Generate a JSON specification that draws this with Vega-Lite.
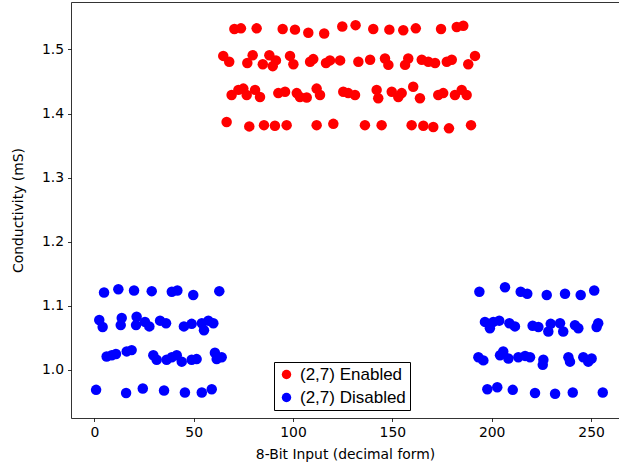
{
"$schema": "https://vega.github.io/schema/vega-lite/v6.json",
"width": 548, "height": 416,
"autosize": {"type": "none"},
"padding": {"left": 71, "top": 2, "right": 0, "bottom": 51},
"background": "white",
"config": {
 "view": {"stroke": null},
 "axis": {"domainColor": "#000", "domainWidth": 0.8, "tickColor": "#000", "tickWidth": 0.8, "tickSize": 3.5, "labelFont": "DejaVu Sans", "labelFontSize": 13.9, "labelColor": "#000", "titleFont": "DejaVu Sans", "titleFontSize": 13.9, "titleFontWeight": "normal", "titleColor": "#000", "grid": false, "labelPadding": 4}
},
"datasets": {
 "pts": [
  {"x":70.5,"y":1.532,"s":"(2,7) Enabled"},{"x":73.8,"y":1.533,"s":"(2,7) Enabled"},{"x":81.7,"y":1.533,"s":"(2,7) Enabled"},{"x":94.8,"y":1.532,"s":"(2,7) Enabled"},{"x":101.0,"y":1.531,"s":"(2,7) Enabled"},{"x":107.7,"y":1.526,"s":"(2,7) Enabled"},{"x":115.7,"y":1.525,"s":"(2,7) Enabled"},{"x":124.8,"y":1.536,"s":"(2,7) Enabled"},{"x":131.5,"y":1.538,"s":"(2,7) Enabled"},{"x":140.4,"y":1.532,"s":"(2,7) Enabled"},{"x":148.5,"y":1.531,"s":"(2,7) Enabled"},{"x":155.5,"y":1.530,"s":"(2,7) Enabled"},{"x":161.8,"y":1.533,"s":"(2,7) Enabled"},{"x":174.5,"y":1.532,"s":"(2,7) Enabled"},{"x":182.4,"y":1.535,"s":"(2,7) Enabled"},{"x":185.7,"y":1.537,"s":"(2,7) Enabled"},
  {"x":64.9,"y":1.490,"s":"(2,7) Enabled"},{"x":67.9,"y":1.481,"s":"(2,7) Enabled"},{"x":77.0,"y":1.479,"s":"(2,7) Enabled"},{"x":79.7,"y":1.491,"s":"(2,7) Enabled"},{"x":84.8,"y":1.477,"s":"(2,7) Enabled"},{"x":88.1,"y":1.491,"s":"(2,7) Enabled"},{"x":89.8,"y":1.474,"s":"(2,7) Enabled"},{"x":91.4,"y":1.483,"s":"(2,7) Enabled"},{"x":98.5,"y":1.490,"s":"(2,7) Enabled"},{"x":100.2,"y":1.477,"s":"(2,7) Enabled"},{"x":108.6,"y":1.481,"s":"(2,7) Enabled"},{"x":110.2,"y":1.485,"s":"(2,7) Enabled"},{"x":116.6,"y":1.479,"s":"(2,7) Enabled"},{"x":118.6,"y":1.483,"s":"(2,7) Enabled"},{"x":123.7,"y":1.483,"s":"(2,7) Enabled"},{"x":132.9,"y":1.481,"s":"(2,7) Enabled"},{"x":138.8,"y":1.484,"s":"(2,7) Enabled"},{"x":146.3,"y":1.486,"s":"(2,7) Enabled"},{"x":148.0,"y":1.476,"s":"(2,7) Enabled"},{"x":156.4,"y":1.476,"s":"(2,7) Enabled"},{"x":158.0,"y":1.486,"s":"(2,7) Enabled"},{"x":164.8,"y":1.484,"s":"(2,7) Enabled"},{"x":168.1,"y":1.481,"s":"(2,7) Enabled"},{"x":171.5,"y":1.479,"s":"(2,7) Enabled"},{"x":177.4,"y":1.481,"s":"(2,7) Enabled"},{"x":179.9,"y":1.484,"s":"(2,7) Enabled"},{"x":188.2,"y":1.477,"s":"(2,7) Enabled"},{"x":191.6,"y":1.490,"s":"(2,7) Enabled"},
  {"x":69.1,"y":1.429,"s":"(2,7) Enabled"},{"x":72.5,"y":1.437,"s":"(2,7) Enabled"},{"x":75.0,"y":1.439,"s":"(2,7) Enabled"},{"x":76.7,"y":1.429,"s":"(2,7) Enabled"},{"x":80.9,"y":1.437,"s":"(2,7) Enabled"},{"x":83.4,"y":1.426,"s":"(2,7) Enabled"},{"x":92.6,"y":1.432,"s":"(2,7) Enabled"},{"x":96.0,"y":1.434,"s":"(2,7) Enabled"},{"x":101.9,"y":1.432,"s":"(2,7) Enabled"},{"x":103.5,"y":1.426,"s":"(2,7) Enabled"},{"x":106.9,"y":1.425,"s":"(2,7) Enabled"},{"x":111.9,"y":1.439,"s":"(2,7) Enabled"},{"x":113.6,"y":1.429,"s":"(2,7) Enabled"},{"x":125.3,"y":1.434,"s":"(2,7) Enabled"},{"x":127.8,"y":1.432,"s":"(2,7) Enabled"},{"x":131.2,"y":1.429,"s":"(2,7) Enabled"},{"x":142.1,"y":1.437,"s":"(2,7) Enabled"},{"x":142.9,"y":1.424,"s":"(2,7) Enabled"},{"x":149.7,"y":1.434,"s":"(2,7) Enabled"},{"x":153.0,"y":1.426,"s":"(2,7) Enabled"},{"x":154.7,"y":1.432,"s":"(2,7) Enabled"},{"x":160.5,"y":1.442,"s":"(2,7) Enabled"},{"x":163.9,"y":1.424,"s":"(2,7) Enabled"},{"x":173.1,"y":1.429,"s":"(2,7) Enabled"},{"x":175.6,"y":1.432,"s":"(2,7) Enabled"},{"x":181.5,"y":1.429,"s":"(2,7) Enabled"},{"x":184.9,"y":1.437,"s":"(2,7) Enabled"},{"x":187.4,"y":1.429,"s":"(2,7) Enabled"},
  {"x":66.6,"y":1.387,"s":"(2,7) Enabled"},{"x":78.0,"y":1.380,"s":"(2,7) Enabled"},{"x":85.4,"y":1.382,"s":"(2,7) Enabled"},{"x":90.9,"y":1.381,"s":"(2,7) Enabled"},{"x":96.8,"y":1.382,"s":"(2,7) Enabled"},{"x":111.9,"y":1.382,"s":"(2,7) Enabled"},{"x":120.3,"y":1.384,"s":"(2,7) Enabled"},{"x":136.2,"y":1.382,"s":"(2,7) Enabled"},{"x":144.6,"y":1.382,"s":"(2,7) Enabled"},{"x":159.7,"y":1.382,"s":"(2,7) Enabled"},{"x":165.6,"y":1.381,"s":"(2,7) Enabled"},{"x":170.6,"y":1.379,"s":"(2,7) Enabled"},{"x":178.5,"y":1.377,"s":"(2,7) Enabled"},{"x":189.6,"y":1.382,"s":"(2,7) Enabled"},
  {"x":4.9,"y":1.121,"s":"(2,7) Disabled"},{"x":12.1,"y":1.126,"s":"(2,7) Disabled"},{"x":20.0,"y":1.124,"s":"(2,7) Disabled"},{"x":28.9,"y":1.123,"s":"(2,7) Disabled"},{"x":39.0,"y":1.122,"s":"(2,7) Disabled"},{"x":41.8,"y":1.124,"s":"(2,7) Disabled"},{"x":49.8,"y":1.117,"s":"(2,7) Disabled"},{"x":62.9,"y":1.123,"s":"(2,7) Disabled"},
  {"x":2.5,"y":1.078,"s":"(2,7) Disabled"},{"x":4.2,"y":1.067,"s":"(2,7) Disabled"},{"x":13.8,"y":1.081,"s":"(2,7) Disabled"},{"x":13.3,"y":1.070,"s":"(2,7) Disabled"},{"x":21.3,"y":1.083,"s":"(2,7) Disabled"},{"x":21.0,"y":1.070,"s":"(2,7) Disabled"},{"x":25.5,"y":1.075,"s":"(2,7) Disabled"},{"x":27.7,"y":1.068,"s":"(2,7) Disabled"},{"x":33.1,"y":1.077,"s":"(2,7) Disabled"},{"x":36.1,"y":1.073,"s":"(2,7) Disabled"},{"x":45.1,"y":1.068,"s":"(2,7) Disabled"},{"x":49.0,"y":1.072,"s":"(2,7) Disabled"},{"x":54.1,"y":1.073,"s":"(2,7) Disabled"},{"x":55.2,"y":1.062,"s":"(2,7) Disabled"},{"x":57.4,"y":1.077,"s":"(2,7) Disabled"},{"x":59.9,"y":1.073,"s":"(2,7) Disabled"},
  {"x":6.2,"y":1.021,"s":"(2,7) Disabled"},{"x":8.8,"y":1.023,"s":"(2,7) Disabled"},{"x":10.9,"y":1.025,"s":"(2,7) Disabled"},{"x":16.3,"y":1.029,"s":"(2,7) Disabled"},{"x":18.8,"y":1.031,"s":"(2,7) Disabled"},{"x":29.7,"y":1.023,"s":"(2,7) Disabled"},{"x":31.4,"y":1.016,"s":"(2,7) Disabled"},{"x":36.4,"y":1.016,"s":"(2,7) Disabled"},{"x":39.0,"y":1.020,"s":"(2,7) Disabled"},{"x":41.5,"y":1.023,"s":"(2,7) Disabled"},{"x":44.0,"y":1.013,"s":"(2,7) Disabled"},{"x":49.0,"y":1.016,"s":"(2,7) Disabled"},{"x":51.5,"y":1.017,"s":"(2,7) Disabled"},{"x":60.7,"y":1.027,"s":"(2,7) Disabled"},{"x":61.6,"y":1.017,"s":"(2,7) Disabled"},{"x":64.1,"y":1.020,"s":"(2,7) Disabled"},
  {"x":0.9,"y":0.969,"s":"(2,7) Disabled"},{"x":16.0,"y":0.964,"s":"(2,7) Disabled"},{"x":24.4,"y":0.971,"s":"(2,7) Disabled"},{"x":35.1,"y":0.968,"s":"(2,7) Disabled"},{"x":45.6,"y":0.965,"s":"(2,7) Disabled"},{"x":54.1,"y":0.965,"s":"(2,7) Disabled"},{"x":59.1,"y":0.970,"s":"(2,7) Disabled"},
  {"x":193.8,"y":1.122,"s":"(2,7) Disabled"},{"x":206.7,"y":1.129,"s":"(2,7) Disabled"},{"x":214.6,"y":1.122,"s":"(2,7) Disabled"},{"x":217.9,"y":1.119,"s":"(2,7) Disabled"},{"x":227.7,"y":1.117,"s":"(2,7) Disabled"},{"x":236.9,"y":1.119,"s":"(2,7) Disabled"},{"x":244.8,"y":1.117,"s":"(2,7) Disabled"},{"x":251.6,"y":1.124,"s":"(2,7) Disabled"},
  {"x":196.6,"y":1.075,"s":"(2,7) Disabled"},{"x":199.1,"y":1.065,"s":"(2,7) Disabled"},{"x":200.8,"y":1.075,"s":"(2,7) Disabled"},{"x":203.8,"y":1.077,"s":"(2,7) Disabled"},{"x":208.9,"y":1.073,"s":"(2,7) Disabled"},{"x":211.7,"y":1.068,"s":"(2,7) Disabled"},{"x":220.6,"y":1.069,"s":"(2,7) Disabled"},{"x":223.5,"y":1.067,"s":"(2,7) Disabled"},{"x":228.5,"y":1.060,"s":"(2,7) Disabled"},{"x":229.7,"y":1.072,"s":"(2,7) Disabled"},{"x":234.4,"y":1.073,"s":"(2,7) Disabled"},{"x":236.0,"y":1.060,"s":"(2,7) Disabled"},{"x":241.9,"y":1.070,"s":"(2,7) Disabled"},{"x":243.6,"y":1.065,"s":"(2,7) Disabled"},{"x":253.6,"y":1.073,"s":"(2,7) Disabled"},{"x":252.8,"y":1.067,"s":"(2,7) Disabled"},
  {"x":193.3,"y":1.020,"s":"(2,7) Disabled"},{"x":195.8,"y":1.015,"s":"(2,7) Disabled"},{"x":204.2,"y":1.023,"s":"(2,7) Disabled"},{"x":205.8,"y":1.029,"s":"(2,7) Disabled"},{"x":208.4,"y":1.018,"s":"(2,7) Disabled"},{"x":213.4,"y":1.020,"s":"(2,7) Disabled"},{"x":216.8,"y":1.022,"s":"(2,7) Disabled"},{"x":219.3,"y":1.020,"s":"(2,7) Disabled"},{"x":226.0,"y":1.016,"s":"(2,7) Disabled"},{"x":225.7,"y":1.008,"s":"(2,7) Disabled"},{"x":238.6,"y":1.020,"s":"(2,7) Disabled"},{"x":239.4,"y":1.013,"s":"(2,7) Disabled"},{"x":246.1,"y":1.020,"s":"(2,7) Disabled"},{"x":248.6,"y":1.013,"s":"(2,7) Disabled"},{"x":250.3,"y":1.018,"s":"(2,7) Disabled"},
  {"x":197.8,"y":0.970,"s":"(2,7) Disabled"},{"x":202.8,"y":0.973,"s":"(2,7) Disabled"},{"x":210.6,"y":0.969,"s":"(2,7) Disabled"},{"x":221.8,"y":0.964,"s":"(2,7) Disabled"},{"x":231.9,"y":0.963,"s":"(2,7) Disabled"},{"x":240.8,"y":0.965,"s":"(2,7) Disabled"},{"x":255.9,"y":0.965,"s":"(2,7) Disabled"}
 ]
},
"layer": [
 {
  "data": {"name": "pts"},
  "mark": {"type": "circle", "size": 110, "opacity": 1},
  "encoding": {
   "x": {"field": "x", "type": "quantitative", "scale": {"domain": [-11.73, 264.07], "nice": false, "zero": false},
         "axis": {"values": [0, 50, 100, 150, 200, 250], "title": "8-Bit Input (decimal form)", "titlePadding": 8}},
   "y": {"field": "y", "type": "quantitative", "scale": {"domain": [0.9251, 1.5741], "nice": false, "zero": false},
         "axis": {"values": [1.0, 1.1, 1.2, 1.3, 1.4, 1.5], "format": ".1f", "title": "Conductivity (mS)", "titlePadding": 16}},
   "color": {"field": "s", "type": "nominal",
     "scale": {"domain": ["(2,7) Enabled", "(2,7) Disabled"], "range": ["#ff0000", "#0000ff"]},
     "legend": {"title": null, "orient": "none", "legendX": 203, "legendY": 360, "direction": "vertical",
       "strokeColor": "#000", "fillColor": "#fff", "cornerRadius": 0, "padding": 4,
       "labelFont": "Liberation Sans", "labelFontSize": 17, "labelColor": "#000", "labelOffset": 5,
       "symbolType": "circle", "symbolSize": 90, "symbolStrokeWidth": 0, "rowPadding": 5}}
  }
 },
 {
  "data": {"name": "pts"},
  "mark": {"type": "circle", "opacity": 0},
  "encoding": {
   "x": {"field": "x", "type": "quantitative", "scale": {"domain": [-11.73, 264.07], "nice": false, "zero": false},
         "axis": {"orient": "top", "labels": false, "ticks": false, "title": null}}
  }
 }
],
"resolve": {"axis": {"x": "independent"}}
}
